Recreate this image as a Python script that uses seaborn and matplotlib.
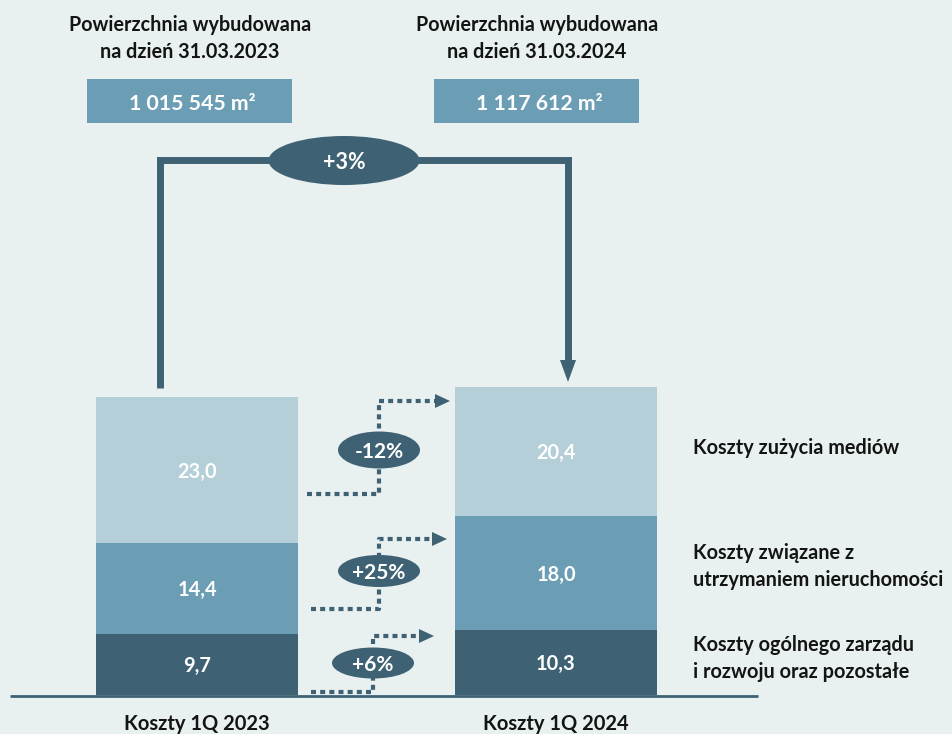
import numpy as np
import pandas as pd
import seaborn as sns
import matplotlib.pyplot as plt
from matplotlib.patches import Ellipse, Rectangle, Polygon

# ---------------- data ----------------
periods = ["Koszty 1Q 2023", "Koszty 1Q 2024"]
general = [9.7, 10.3]          # Koszty ogólnego zarządu i rozwoju oraz pozostałe
property_costs = [14.4, 18.0]  # Koszty związane z utrzymaniem nieruchomości
utilities = [23.0, 20.4]       # Koszty zużycia mediów
segment_labels = ["Koszty ogólnego zarządu\ni rozwoju oraz pozostałe",
                  "Koszty związane z\nutrzymaniem nieruchomości",
                  "Koszty zużycia mediów"]
segment_changes = ["+6%", "+25%", "-12%"]
area_titles = ["Powierzchnia wybudowana\nna dzień 31.03.2023",
               "Powierzchnia wybudowana\nna dzień 31.03.2024"]
area_values = ["1 015 545 m²", "1 117 612 m²"]
area_change = "+3%"

# ---------------- style ----------------
BG = "#e8f0f0"
DARK = "#3e6274"
MID = "#6b9eb5"
LIGHT = "#b5cfd8"
TXT = "#141414"

sns.set_theme(style="white")
plt.rcParams["font.family"] = ["Lato", "DejaVu Sans"]
plt.rcParams["font.weight"] = "bold"

W, H = 953, 734
fig = plt.figure(figsize=(W / 100, H / 100), dpi=100, facecolor=BG)
ax = fig.add_axes([0, 0, 1, 1])
ax.set_facecolor(BG)

XS = 359.0                 # px per category unit
X0 = 197.0                 # px centre of first bar
BASE = 695.0               # px (from top) of value 0
YS = 298.0 / 47.1          # px per value unit


def P(x, y):
    """pixel (from top-left) -> data coords"""
    return ((x - X0) / XS, (BASE - y) / YS)


df = pd.DataFrame({"period": periods,
                   "g": general, "p": property_costs, "u": utilities})
df["c1"] = df["g"]
df["c2"] = df["g"] + df["p"]
df["c3"] = df["g"] + df["p"] + df["u"]

for col, colr in [("c3", LIGHT), ("c2", MID), ("c1", DARK)]:
    sns.barplot(data=df, x="period", y=col, color=colr, width=0.56,
                saturation=1, ax=ax, edgecolor="none", linewidth=0)

ax.set_xlim(-X0 / XS, (W - X0) / XS)
ax.set_ylim(-(H - BASE) / YS, BASE / YS)
ax.axis("off")

# value labels
for i in range(len(periods)):
    bottoms = [0, df["c1"][i], df["c2"][i]]
    vals = [general[i], property_costs[i], utilities[i]]
    for b, v in zip(bottoms, vals):
        ax.text(i, b + v / 2, f"{v:.1f}".replace(".", ","), ha="center",
                va="center_baseline", color="white", fontsize=14.4,
                fontweight="bold")

# baseline
bx0, by = P(10, 696)
bx1, _ = P(758, 696)
ax.plot([bx0, bx1], [by, by], color=DARK, lw=2, solid_capstyle="butt")

# category labels
for i, lab in enumerate(periods):
    ax.text(i, P(0, 730)[1], lab, ha="center", va="baseline", color=TXT,
            fontsize=14.5, fontweight="bold")

# headers and area boxes
for cx, title, val in [(190, area_titles[0], area_values[0]),
                       (537, area_titles[1], area_values[1])]:
    l1, l2 = title.split("\n")
    ax.text(*P(cx, 31), l1, ha="center", va="baseline", color=TXT,
            fontsize=14.2, fontweight="bold")
    ax.text(*P(cx, 58), l2, ha="center", va="baseline", color=TXT,
            fontsize=14.2, fontweight="bold")
    x_l, y_b = P(cx - 102.5, 123)
    x_r, y_t = P(cx + 102.5, 79)
    ax.add_patch(Rectangle((x_l, y_b), x_r - x_l, y_t - y_b,
                           facecolor=MID, edgecolor="none"))
    ax.text(*P(cx + 2, 110), val, ha="center", va="baseline", color="white",
            fontsize=15.3, fontweight="bold")

# big connector
top_left = P(160, 388)
corner_l = P(160, 160)
corner_r = P(568, 160)
arrow_start = P(568, 362)
ax.plot([top_left[0], corner_l[0], corner_r[0], arrow_start[0]],
        [top_left[1], corner_l[1], corner_r[1], arrow_start[1]],
        color=DARK, lw=5, solid_joinstyle="miter", solid_capstyle="butt")
ax.add_patch(Polygon([P(560, 360), P(576, 360), P(568, 382)], closed=True,
                     facecolor=DARK, edgecolor="none"))
ec = P(344, 160.5)
ax.add_patch(Ellipse(ec, 151 / XS, 49 / YS, facecolor=DARK, edgecolor="none"))
ax.text(*ec, area_change, ha="center", va="center_baseline", color="white",
        fontsize=15.5, fontweight="bold")

# dotted change arrows: (start_x, start_y, mid_x, top_y, tip_x, ell_cy, ell_h)
arrows = [
    (311, 692, 373, 636, 434, 663, 31),   # +6%
    (311, 609, 379, 539, 447, 571, 32),   # +25%
    (307, 494, 379, 401, 450, 450, 37),   # -12%
]
for (sx, sy, mx, ty, tx, ecy, eh), lab in zip(arrows, segment_changes):
    pts = [P(sx, sy), P(mx, sy), P(mx, ty), P(tx - 14, ty)]
    ax.plot([p[0] for p in pts], [p[1] for p in pts], color=DARK, lw=3,
            linestyle=(0, (1.2, 1.0)), dash_capstyle="butt")
    ax.add_patch(Polygon([P(tx - 15, ty - 7), P(tx - 15, ty + 7), P(tx, ty)],
                         closed=True, facecolor=DARK, edgecolor="none"))
    c = P(mx, ecy)
    ax.add_patch(Ellipse(c, 82 / XS, eh / YS, facecolor=DARK,
                         edgecolor="none"))
    ax.text(*c, lab, ha="center", va="center_baseline", color="white",
            fontsize=15, fontweight="bold")

# right-hand labels (baseline of first line)
for lab, y in zip(segment_labels, [651, 559, 454]):
    lines = lab.split("\n")
    for k, line in enumerate(lines):
        ax.text(*P(693, y + 27 * k), line, ha="left", va="baseline",
                color=TXT, fontsize=14.3, fontweight="bold")

fig.savefig("out.png", dpi=100, facecolor=BG)
